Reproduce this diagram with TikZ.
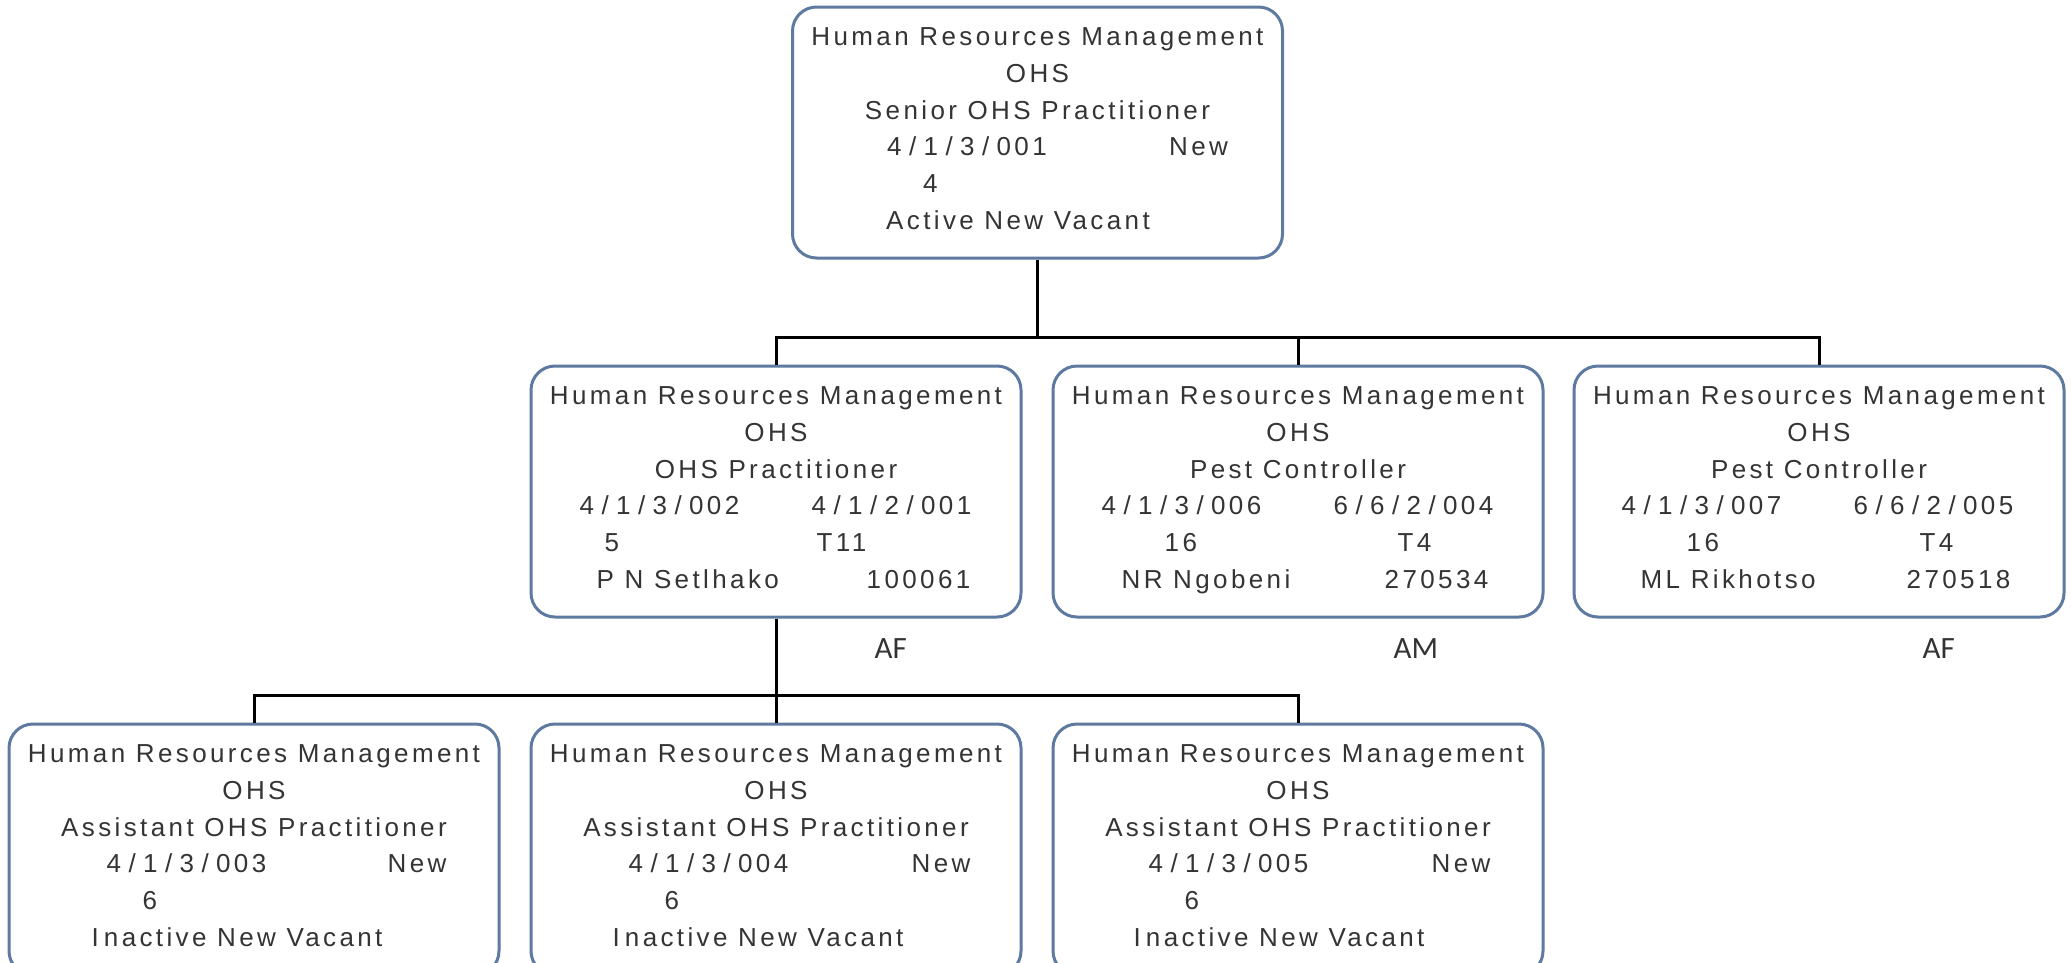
\documentclass[tikz,border=0pt]{standalone}
\usepackage{fontspec}
\setmainfont{Liberation Sans}[LetterSpace=13]
\newfontfamily\lblfont{Carlito}
\usetikzlibrary{calc}
\definecolor{boxborder}{RGB}{94,122,160}
\definecolor{txt}{RGB}{52,52,52}
\newcommand{\sk}{\kern7.4pt/\kern7.4pt}
% vacant box: name, title, code, level, status, dx code, dx New, dx level, dx status
\newcommand{\vacbox}[9]{%
  \node[tc] (#1-l1) at ($(#1.north)+(0,40)$) {Human Resources Management};
  \node[tc] (#1-l2) at ($(#1.north)+(0,76.8)$) {OHS};
  \node[tc] (#1-l3) at ($(#1.north)+(0,113.6)$) {#2};
  \node[tl] (#1-l4a) at ($(#1.north west)+(#6,150.4)$) {#3};
  \node[tl] (#1-l4b) at ($(#1.north west)+(#7,150.4)$) {New};
  \node[tl] (#1-l5) at ($(#1.north west)+(#8,187.2)$) {#4};
  \node[tl] (#1-l6) at ($(#1.north west)+(#9,224)$) {#5};
}
% filled box head: name, title
\newcommand{\filhead}[2]{%
  \node[tc] (#1-l1) at ($(#1.north)+(0,40)$) {Human Resources Management};
  \node[tc] (#1-l2) at ($(#1.north)+(0,76.8)$) {OHS};
  \node[tc] (#1-l3) at ($(#1.north)+(0,113.6)$) {#2};
}
% one cell of a filled box: name, suffix, dy, dx, text
\newcommand{\filcell}[5]{%
  \node[tl] (#1-#2) at ($(#1.north west)+(#4,#3)$) {#5};
}
\begin{document}
\begin{tikzpicture}[x=1pt,y=-1pt,
  orgbox/.style={draw=boxborder,line width=3pt,rounded corners=24pt,minimum width=490pt,minimum height=251pt,inner sep=0pt,fill=white},
  conn/.style={draw=black,line width=3pt},
  tx/.style={text=txt,inner sep=0pt,font=\fontsize{26}{30}\selectfont},
  tl/.style={tx,anchor=base west},
  tc/.style={tx,anchor=base},
  lbl/.style={text=txt,inner sep=0pt,anchor=base west,font=\lblfont\fontsize{31}{36}\selectfont}]
\useasboundingbox (0,0) rectangle (2071,962);
\clip (0,0) rectangle (2071,962);

\coordinate (j1) at (1037.5,337);
\coordinate (j2) at (776,695);

\node[orgbox] (top) at (1037.5,132.5) {};
\node[orgbox] (m1) at (776,491.5) {};
\node[orgbox] (m2) at (1298,491.5) {};
\node[orgbox] (m3) at (1819,491.5) {};
\node[orgbox] (b1) at (254,849.5) {};
\node[orgbox] (b2) at (776,849.5) {};
\node[orgbox] (b3) at (1298,849.5) {};

\draw[conn] (top.south) -- (top.south |- j1);
\draw[conn] (m1.north) |- (m3.north |- j1) -- (m3.north);
\draw[conn] (m2.north) -- (m2.north |- j1);
\draw[conn] (m1.south) -- (j2);
\draw[conn] (b1.north) |- (b3.north |- j2) -- (b3.north);
\draw[conn] (b2.north) -- (b2.north |- j2);

\vacbox{top}{Senior OHS Practitioner}{4\sk 1\sk 3\sk 001}{4}{Active New Vacant}{96}{378}{132}{95}
\vacbox{b1}{Assistant OHS Practitioner}{4\sk 1\sk 3\sk 003}{6}{I\kern5pt nactive New Vacant}{99}{380}{135}{84}
\vacbox{b2}{Assistant OHS Practitioner}{4\sk 1\sk 3\sk 004}{6}{I\kern5pt nactive New Vacant}{99}{382}{135}{83}
\vacbox{b3}{Assistant OHS Practitioner}{4\sk 1\sk 3\sk 005}{6}{I\kern5pt nactive New Vacant}{97}{380}{133}{82}

\filhead{m1}{OHS Practitioner}
\filcell{m1}{l4a}{150.4}{50}{4\sk 1\sk 3\sk 002}
\filcell{m1}{l4b}{150.4}{282}{4\sk 1\sk 2\sk 001}
\filcell{m1}{l5a}{187.2}{75}{5}
\filcell{m1}{l5b}{187.2}{287}{T11}
\filcell{m1}{l6a}{224}{67}{P N Setlhako}
\filcell{m1}{l6b}{224}{337}{100061}

\filhead{m2}{Pest Controller}
\filcell{m2}{l4a}{150.4}{50}{4\sk 1\sk 3\sk 006}
\filcell{m2}{l4b}{150.4}{282}{6\sk 6\sk 2\sk 004}
\filcell{m2}{l5a}{187.2}{113}{16}
\filcell{m2}{l5b}{187.2}{346}{T4}
\filcell{m2}{l6a}{224}{70}{NR Ngobeni}
\filcell{m2}{l6b}{224}{333}{270534}

\filhead{m3}{Pest Controller}
\filcell{m3}{l4a}{150.4}{49}{4\sk 1\sk 3\sk 007}
\filcell{m3}{l4b}{150.4}{281}{6\sk 6\sk 2\sk 005}
\filcell{m3}{l5a}{187.2}{114}{16}
\filcell{m3}{l5b}{187.2}{347}{T4}
\filcell{m3}{l6a}{224}{68}{ML Rikhotso}
\filcell{m3}{l6b}{224}{334}{270518}

\node[lbl] (g1) at ($(m1.south west)+(345,40)$) {AF};
\node[lbl] (g2) at ($(m2.south west)+(342,40)$) {AM};
\node[lbl] (g3) at ($(m3.south west)+(350,40)$) {AF};
\end{tikzpicture}
\end{document}
